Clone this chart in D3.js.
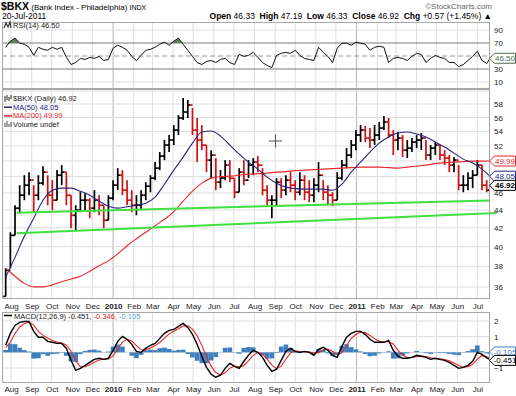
<!DOCTYPE html>
<html>
<head>
<meta charset="utf-8">
<script src="https://cdn.jsdelivr.net/npm/d3@7/dist/d3.min.js"></script>
<style>
  body { margin: 0; background: #fff; }
  svg { display: block; font-family: "Liberation Sans", Arial, sans-serif; }
</style>
</head>
<body>
<svg width="516" height="396"></svg>
<script>
// weekly readings (one bar per week, last bar = 20-Jul-2011)
var priceHigh = [37.80,41.52,44.55,46.94,48.18,48.56,46.94,48.18,49.33,48.18,
  47.56,48.82,49.46,48.56,45.73,44.55,46.09,45.97,45.38,46.33,
  45.73,44.55,45.73,47.56,49.07,48.82,47.56,46.33,45.73,46.33,
  47.31,48.18,49.85,51.17,52.80,53.49,54.90,56.36,58.92,58.61,
  57.40,55.92,54.90,52.11,51.43,50.37,48.82,50.11,50.11,47.81,
  49.07,50.11,50.11,50.37,50.64,49.07,46.94,45.73,47.81,47.81,
  48.18,48.56,47.56,48.56,48.18,47.56,47.81,49.85,47.56,46.94,
  46.09,48.56,50.11,51.70,52.80,54.19,54.90,54.76,54.48,54.90,
  55.34,56.21,55.92,54.19,53.91,53.49,52.80,53.07,53.49,53.77,
  52.80,52.11,52.52,52.11,51.43,50.77,50.50,49.46,48.18,48.56,
  48.82,50.11,49.46,47.56,47.19];
var priceLow = [35.13,37.80,41.19,43.63,45.14,45.73,43.75,45.14,46.94,44.55,
  43.98,45.14,46.94,44.55,41.95,41.74,43.75,43.98,43.07,43.75,
  43.40,41.95,42.84,45.14,46.33,45.73,44.55,43.75,43.40,43.98,
  45.14,46.09,47.56,48.82,50.11,51.17,52.11,53.49,55.63,55.92,
  53.49,49.85,51.43,48.56,47.81,46.33,46.58,47.56,47.31,45.38,
  46.09,46.94,47.81,48.18,48.56,45.73,44.55,43.07,44.55,45.38,
  45.73,46.09,45.14,45.73,45.14,44.90,44.90,46.09,45.14,44.55,
  44.44,45.14,47.56,49.07,50.37,51.43,52.52,52.52,51.70,52.11,
  52.80,54.19,53.07,50.77,51.43,50.50,50.37,51.17,51.70,51.43,
  50.11,50.11,50.77,50.11,49.46,48.56,48.56,46.33,46.09,46.33,
  46.58,48.18,46.33,46.09,45.14];
var priceClose = [37.60,41.19,44.21,45.73,46.94,47.56,45.73,47.19,48.56,45.73,
  45.14,48.18,48.56,45.73,43.40,43.98,45.14,45.14,44.21,45.14,
  44.55,42.84,45.38,46.94,48.18,46.33,45.14,44.55,44.55,45.73,
  46.82,47.81,49.07,50.64,52.11,52.80,54.19,55.92,56.80,57.85,
  54.19,52.80,52.11,50.11,50.77,47.31,47.81,49.46,47.81,46.09,
  48.56,47.56,49.46,49.85,49.46,46.33,45.14,45.14,47.31,46.33,
  47.56,46.94,46.09,47.56,46.09,45.73,46.94,48.18,46.09,45.73,
  45.14,47.81,49.46,50.77,52.11,53.49,54.19,53.07,52.80,53.49,
  54.48,55.34,53.49,52.80,53.07,51.43,51.70,52.52,52.80,53.07,
  50.77,51.70,52.11,50.77,50.37,49.46,50.11,46.94,46.94,47.81,
  48.18,49.46,46.94,46.33,46.92];

// moving averages, read every second week
var ma50 = [36.92,38.89,41.08,43.07,45.14,46.33,46.58,46.58,46.21,45.73,
  45.02,44.44,44.21,44.38,44.55,44.79,45.50,47.06,48.82,50.50,
  52.38,53.91,54.05,53.35,52.11,50.90,49.85,48.95,47.93,47.19,
  46.70,46.52,46.46,46.46,46.46,46.33,47.06,48.56,49.85,51.17,
  52.38,53.21,53.77,53.91,53.63,53.21,52.52,51.84,51.03,50.24,
  49.72,48.95,48.05];
var ma200 = [37.80,37.02,36.34,36.01,36.01,36.20,36.49,36.76,37.02,37.50,
  38.05,38.54,39.25,40.09,40.82,41.52,42.23,42.95,43.81,45.02,
  46.21,47.19,47.81,48.00,48.06,48.18,48.31,48.37,48.44,48.56,
  48.63,48.75,48.82,48.88,48.95,49.01,49.07,49.14,49.20,49.20,
  49.20,49.14,49.07,49.20,49.33,49.46,49.65,49.78,49.85,49.91,
  49.98,49.98,49.99];

var rsi14 = [63.4,72.8,77.5,69.7,68.1,63.4,50.9,63.4,60.3,58.8,
  63.4,60.3,63.4,47.8,36.9,40.0,46.3,44.7,47.8,46.3,
  49.4,43.1,44.7,61.9,66.6,63.4,58.8,49.4,43.1,50.9,
  58.8,60.3,63.4,68.1,71.3,66.6,72.8,77.5,68.1,58.8,
  49.4,40.0,36.9,41.6,43.1,40.0,44.7,46.3,40.0,36.9,
  52.5,49.4,50.9,55.6,47.8,40.0,35.3,32.2,50.9,54.1,
  55.6,54.1,58.8,50.9,46.3,44.7,43.1,63.4,55.6,49.4,
  40.0,61.9,69.7,69.7,66.6,71.3,69.7,68.1,58.8,63.4,
  65.0,63.4,40.0,46.3,47.8,46.3,43.1,49.4,54.1,52.5,
  40.0,46.3,50.9,47.8,46.3,40.0,40.0,33.8,36.9,43.1,
  49.4,57.2,43.1,38.4,46.5];

var macdLine = [0.45,1.21,1.72,1.91,1.97,1.97,1.34,0.96,0.96,0.70,
  0.64,0.57,0.57,0.25,-0.51,-1.15,-1.02,-0.83,-0.64,-0.45,
  -0.38,-0.45,-0.38,0.13,0.70,1.02,0.83,0.51,0.06,0.00,
  0.25,0.45,0.57,0.89,1.21,1.40,1.46,1.66,1.85,1.59,
  1.15,0.51,-0.25,-0.96,-1.40,-1.59,-1.46,-1.02,-0.70,-0.89,
  -1.02,-0.57,-0.19,0.13,0.00,-0.32,-0.83,-1.21,-1.08,-0.51,
  0.06,0.25,0.06,0.00,0.06,0.00,-0.19,0.19,0.32,0.13,
  -0.19,-0.32,0.38,0.96,1.21,1.34,1.34,1.15,0.83,0.64,
  0.64,0.64,0.76,0.13,-0.25,-0.38,-0.38,-0.32,-0.19,-0.25,
  -0.32,-0.45,-0.38,-0.45,-0.51,-0.64,-0.83,-1.02,-0.96,-0.83,
  -0.57,0.00,-0.13,-0.35,-0.451];
var macdSignal = [0.30,0.66,1.20,1.62,1.83,1.92,1.74,1.34,1.08,0.92,
  0.75,0.66,0.60,0.47,0.07,-0.54,-0.91,-0.92,-0.80,-0.63,
  -0.49,-0.44,-0.43,-0.23,0.20,0.65,0.83,0.72,0.43,0.16,
  0.14,0.28,0.43,0.63,0.91,1.18,1.35,1.50,1.68,1.70,
  1.48,1.05,0.44,-0.26,-0.88,-1.29,-1.45,-1.31,-1.01,-0.87,
  -0.93,-0.85,-0.53,-0.19,-0.02,-0.12,-0.43,-0.82,-1.04,-0.88,
  -0.44,-0.04,0.10,0.05,0.04,0.03,-0.06,-0.02,0.16,0.20,
  0.05,-0.15,-0.03,0.44,0.88,1.15,1.28,1.26,1.08,0.86,
  0.71,0.66,0.69,0.53,0.13,-0.17,-0.31,-0.33,-0.28,-0.24,
  -0.27,-0.35,-0.40,-0.41,-0.46,-0.54,-0.68,-0.84,-0.94,-0.91,
  -0.77,-0.44,-0.20,-0.28,-0.346];
var macdHist = [0.15,0.55,0.52,0.29,0.14,0.05,-0.40,-0.38,-0.12,-0.22,
  -0.11,-0.09,-0.03,-0.22,-0.58,-0.61,-0.11,0.09,0.16,0.18,
  0.11,-0.01,0.05,0.36,0.50,0.37,0.00,-0.21,-0.37,-0.16,
  0.11,0.17,0.14,0.26,0.30,0.22,0.11,0.16,0.17,-0.11,
  -0.33,-0.54,-0.69,-0.70,-0.52,-0.30,-0.01,0.29,0.31,-0.02,
  -0.09,0.28,0.34,0.32,0.02,-0.20,-0.40,-0.39,-0.04,0.37,
  0.50,0.29,-0.04,-0.05,0.02,-0.03,-0.13,0.21,0.16,-0.07,
  -0.24,-0.17,0.41,0.52,0.33,0.19,0.06,-0.11,-0.25,-0.22,
  -0.07,-0.02,0.07,-0.40,-0.38,-0.21,-0.07,0.01,0.09,-0.01,
  -0.05,-0.10,0.02,-0.04,-0.05,-0.10,-0.15,-0.18,-0.02,0.08,
  0.20,0.44,0.07,-0.07,-0.105];

// hand drawn trendlines: [date, price]
var upperTrend = [[new Date(2009, 7, 10), 43.7], [new Date(2011, 6, 20), 45.1]];
var lowerTrend = [[new Date(2009, 7, 10), 41.4], [new Date(2011, 6, 30), 43.65]];

// labels hidden behind the last-value tags are left out, as in the original
var priceTicks = [36, 38, 40, 42, 44, 46, 52, 54, 56, 58];
var priceGrid = [36, 38, 40, 42, 44, 46, 48, 50, 52, 54, 56, 58, 60];
var rsiTicks = [10, 30, 70, 90];
var macdTicks = [-1, 1, 2];
var macdGrid = [-1, 0, 1, 2];

var weekDates = d3.timeFriday.range(new Date(2009, 6, 24), new Date(2011, 6, 16));
weekDates.push(new Date(2011, 6, 20));
var maDates = weekDates.filter(function(d, i) { return i % 2 === 0; });
var months = d3.timeMonth.range(new Date(2009, 7, 1), new Date(2011, 6, 21));

var svg = d3.select("svg");
var plotLeft = 2, plotRight = 490;

var x = d3.scaleTime()
    .domain([new Date(2009, 6, 20), new Date(2011, 6, 20)])
    .range([3, 490]);

var rsiBox = {top: 22, bottom: 89},
    priceBox = {top: 89, bottom: 299},
    macdBox = {top: 312, bottom: 383};

var yRsi = d3.scaleLinear().domain([0, 100]).range([88.5, 23.5]);
var yPrice = d3.scaleLog().domain([36, 58]).range([287, 104]);
var yMacd = d3.scaleLinear().domain([-1, 2]).range([368, 321]);

var defs = svg.append("defs");

function drawPanel(name, box, yScale, gridValues) {
    defs.append("clipPath").attr("id", "clip-" + name)
        .append("rect")
        .attr("x", plotLeft).attr("y", box.top)
        .attr("width", plotRight - plotLeft).attr("height", box.bottom - box.top);

    var g = svg.append("g").attr("clip-path", "url(#clip-" + name + ")");
    g.selectAll(null).data(months).enter().append("line")
        .attr("x1", function(d) { return x(d); })
        .attr("x2", function(d) { return x(d); })
        .attr("y1", box.top).attr("y2", box.bottom)
        .attr("stroke", function(d) { return d.getMonth() === 0 ? "#b5b5b5" : "#dedede"; });
    g.selectAll(null).data(gridValues).enter().append("line")
        .attr("x1", plotLeft).attr("x2", plotRight)
        .attr("y1", function(d) { return yScale(d); })
        .attr("y2", function(d) { return yScale(d); })
        .attr("stroke", "#dedede");
    return g;
}

function drawFrame(box) {
    svg.append("rect")
        .attr("x", plotLeft + 0.5).attr("y", box.top + 0.5)
        .attr("width", plotRight - plotLeft - 1).attr("height", box.bottom - box.top - 1)
        .attr("fill", "none").attr("stroke", "#a8a8a8");
}

// ---------- RSI panel
var rsiG = drawPanel("rsi", rsiBox, yRsi, [10, 90]);
var rsiData = weekDates.map(function(d, i) { return {date: d, value: rsi14[i]}; });

[70, 30].forEach(function(v) {
    rsiG.append("line").attr("x1", plotLeft).attr("x2", plotRight)
        .attr("y1", yRsi(v)).attr("y2", yRsi(v)).attr("stroke", "#7a7a7a");
});
rsiG.append("line").attr("x1", plotLeft).attr("x2", plotRight)
    .attr("y1", yRsi(50)).attr("y2", yRsi(50))
    .attr("stroke", "#9a9a9a").attr("stroke-dasharray", "5,3");

defs.append("clipPath").attr("id", "clip-rsi-high")
    .append("rect").attr("x", plotLeft).attr("y", rsiBox.top)
    .attr("width", plotRight - plotLeft).attr("height", yRsi(70) - rsiBox.top);
rsiG.append("path")
    .datum(rsiData)
    .attr("clip-path", "url(#clip-rsi-high)")
    .attr("fill", "#5f7f5f")
    .attr("d", d3.area()
        .x(function(d) { return x(d.date); })
        .y0(yRsi(70))
        .y1(function(d) { return yRsi(d.value); }));
rsiG.append("path")
    .datum(rsiData)
    .attr("fill", "none").attr("stroke", "#111").attr("stroke-width", 1)
    .attr("d", d3.line()
        .x(function(d) { return x(d.date); })
        .y(function(d) { return yRsi(d.value); }));
drawFrame(rsiBox);

// ---------- price panel
var priceG = drawPanel("price", priceBox, yPrice, priceGrid);

var ohlc = weekDates.map(function(d, i) {
    return {
        date: d,
        open: i === 0 ? priceLow[0] : priceClose[i - 1],
        high: priceHigh[i],
        low: priceLow[i],
        close: priceClose[i]
    };
});

var bar = priceG.selectAll(".bar").data(ohlc).enter().append("g")
    .attr("class", "bar")
    .attr("stroke", function(d) { return d.close >= d.open ? "#000" : "#d01010"; })
    .attr("stroke-width", 1.7);
bar.append("line")
    .attr("x1", function(d) { return x(d.date); })
    .attr("x2", function(d) { return x(d.date); })
    .attr("y1", function(d) { return yPrice(d.high); })
    .attr("y2", function(d) { return yPrice(d.low); });
bar.append("line")
    .attr("x1", function(d) { return x(d.date) - 2.4; })
    .attr("x2", function(d) { return x(d.date); })
    .attr("y1", function(d) { return yPrice(d.open); })
    .attr("y2", function(d) { return yPrice(d.open); });
bar.append("line")
    .attr("x1", function(d) { return x(d.date); })
    .attr("x2", function(d) { return x(d.date) + 2.4; })
    .attr("y1", function(d) { return yPrice(d.close); })
    .attr("y2", function(d) { return yPrice(d.close); });

var maLine = d3.line()
    .x(function(d) { return x(d.date); })
    .y(function(d) { return yPrice(d.value); })
    .curve(d3.curveMonotoneX);

priceG.append("path")
    .datum(maDates.map(function(d, i) { return {date: d, value: ma200[i]}; }))
    .attr("fill", "none").attr("stroke", "#e8262a").attr("stroke-width", 1.1)
    .attr("d", maLine);
priceG.append("path")
    .datum(maDates.map(function(d, i) { return {date: d, value: ma50[i]}; }))
    .attr("fill", "none").attr("stroke", "#26267e").attr("stroke-width", 1.1)
    .attr("d", maLine);

// trendlines run a little past the plot edge, as in the original
var trendLine = d3.line()
    .x(function(d) { return x(d[0]); })
    .y(function(d) { return yPrice(d[1]); });
[upperTrend, lowerTrend].forEach(function(t) {
    svg.append("path").datum(t)
        .attr("fill", "none").attr("stroke", "#3fe03f").attr("stroke-width", 2)
        .attr("d", trendLine);
});
drawFrame(priceBox);

// cursor cross left on the chart
svg.append("path").attr("d", "M269,141H282M275.5,134.5V147.5")
    .attr("stroke", "#555").attr("stroke-width", 1);

// ---------- MACD panel
var macdG = drawPanel("macd", macdBox, yMacd, macdGrid);
var step = x(weekDates[1]) - x(weekDates[0]);

macdG.selectAll(".hist").data(macdHist).enter().append("rect")
    .attr("x", function(d, i) { return x(weekDates[i]) - step / 2; })
    .attr("width", step)
    .attr("y", function(d) { return yMacd(Math.max(0, d)); })
    .attr("height", function(d) { return Math.abs(yMacd(d) - yMacd(0)); })
    .attr("fill", "#3f7fbc");

var macdPath = d3.line()
    .x(function(d, i) { return x(weekDates[i]); })
    .y(function(d) { return yMacd(d); });
macdG.append("path").datum(macdSignal)
    .attr("fill", "none").attr("stroke", "#e8262a").attr("stroke-width", 1.1)
    .attr("d", macdPath);
macdG.append("path").datum(macdLine)
    .attr("fill", "none").attr("stroke", "#000").attr("stroke-width", 1.4)
    .attr("d", macdPath);
drawFrame(macdBox);

// ---------- axes
function monthAxis(yPos) {
    var g = svg.append("g")
        .attr("transform", "translate(0," + yPos + ")")
        .call(d3.axisBottom(x).tickValues(months).tickSize(0).tickPadding(0)
            .tickFormat(function(d) {
                return d.getMonth() === 0 ? d.getFullYear() : d3.timeFormat("%b")(d);
            }));
    g.select(".domain").remove();
    g.selectAll("text")
        .attr("font-family", "Liberation Sans, Arial, sans-serif")
        .attr("font-size", 8).attr("fill", "#222")
        .attr("font-weight", function(d) { return d.getMonth() === 0 ? "bold" : null; });
}
monthAxis(303);
monthAxis(386);

function valueAxis(scale, ticks, fmt) {
    var g = svg.append("g")
        .attr("transform", "translate(" + plotRight + ",0)")
        .call(d3.axisRight(scale).tickValues(ticks).tickSize(0).tickPadding(4).tickFormat(fmt));
    g.select(".domain").remove();
    g.selectAll("text")
        .attr("font-family", "Liberation Sans, Arial, sans-serif")
        .attr("font-size", 8).attr("fill", "#222");
}
valueAxis(yRsi, rsiTicks, d3.format("d"));
valueAxis(yPrice, priceTicks, d3.format("d"));
valueAxis(yMacd, macdTicks, d3.format("d"));

// ---------- last value tags
function valueTag(y, label, color, bold) {
    var g = svg.append("g").attr("transform", "translate(0," + y + ")");
    g.append("path")
        .attr("d", "M489.5,0 L494.5,-5 L515.5,-5 L515.5,5 L494.5,5 Z")
        .attr("fill", "#fff").attr("stroke", color);
    g.append("text")
        .attr("x", 505).attr("y", 3)
        .attr("text-anchor", "middle")
        .attr("font-size", 8)
        .attr("font-weight", bold ? "bold" : null)
        .attr("fill", color)
        .text(label);
}
valueTag(yRsi(rsi14[rsi14.length - 1]), "46.50", "#4f6f4f", false);
valueTag(yPrice(ma200[ma200.length - 1]), "49.99", "#e8262a", false);
valueTag(yPrice(ma50[ma50.length - 1]), "48.05", "#26267e", false);
valueTag(yPrice(priceClose[priceClose.length - 1]), "46.92", "#000", true);
// the signal tag sits under the other two in the original, so the histogram tag is lifted clear
valueTag(yMacd(macdHist[macdHist.length - 1]) - 2, "-0.105", "#3f7fbc", false);
valueTag(yMacd(macdLine[macdLine.length - 1]) + 1, "-0.451", "#000", false);

// ---------- legends
function legendText(xPos, yPos, parts) {
    var t = svg.append("text").attr("x", xPos).attr("y", yPos)
        .attr("font-size", 7.5).style("white-space", "pre");
    parts.forEach(function(p) {
        t.append("tspan").attr("fill", p[1]).text(p[0]);
    });
}

// rsi icon
svg.append("path").attr("d", "M4,28 L6,23 L8,27 L10,22 L11,28")
    .attr("fill", "none").attr("stroke", "#333").attr("stroke-width", 1.2);
legendText(13, 28, [["RSI(14) 46.50", "#222"]]);

// price legend, one row every 8.7px
var legendRows = [101, 109.7, 118.4, 127.1];
svg.append("path").attr("d", "M5,96V102M7,95V100M9,97V101M11,95V99")
    .attr("stroke", "#222").attr("stroke-width", 1);
legendText(13, legendRows[0], [["$BKX (Daily) 46.92", "#222"]]);
svg.append("line").attr("x1", 4).attr("x2", 12)
    .attr("y1", legendRows[1] - 2.5).attr("y2", legendRows[1] - 2.5)
    .attr("stroke", "#26267e").attr("stroke-width", 1.5);
legendText(13, legendRows[1], [["MA(50) 48.05", "#26267e"]]);
svg.append("line").attr("x1", 4).attr("x2", 12)
    .attr("y1", legendRows[2] - 2.5).attr("y2", legendRows[2] - 2.5)
    .attr("stroke", "#e8262a").attr("stroke-width", 1.5);
legendText(13, legendRows[2], [["MA(200) 49.99", "#e8262a"]]);
svg.append("path").attr("d", "M5,127V123M7,127V121M9,127V124M11,127V122")
    .attr("stroke", "#666").attr("stroke-width", 1.2);
legendText(13, legendRows[3], [["Volume undef", "#222"]]);

// macd legend
svg.append("line").attr("x1", 4).attr("x2", 12).attr("y1", 315.5).attr("y2", 315.5)
    .attr("stroke", "#000").attr("stroke-width", 1.5);
legendText(14, 318.5, [["MACD(12,26,9) -0.451, ", "#222"], ["-0.346, ", "#e8262a"], ["-0.105", "#5fa2d8"]]);

// ---------- header
var title = svg.append("text").attr("x", 1).attr("y", 10).style("white-space", "pre");
title.append("tspan").attr("font-size", 10.5).attr("font-weight", "bold").text("$BKX");
title.append("tspan").attr("font-size", 8).text(" (Bank Index - Philadelphia) ");
title.append("tspan").attr("font-size", 7).text("INDX");

svg.append("text").attr("x", 2).attr("y", 18.5).attr("font-size", 8.5).text("20-Jul-2011");

svg.append("text").attr("x", 492).attr("y", 8.5).attr("text-anchor", "end")
    .attr("font-size", 8).attr("fill", "#666").text("\u00a9StockCharts.com");

var quote = [["Open", true], [" 46.33  ", false], ["High", true], [" 47.19  ", false],
    ["Low", true], [" 46.33  ", false], ["Close", true], [" 46.92  ", false],
    ["Chg", true], [" +0.57 (+1.45%) \u25b2", false]];
var quoteText = svg.append("text").attr("x", 492).attr("y", 18.5)
    .attr("text-anchor", "end").attr("font-size", 8.5).style("white-space", "pre");
quote.forEach(function(q) {
    quoteText.append("tspan").attr("font-weight", q[1] ? "bold" : null).text(q[0]);
});
</script>
</body>
</html>
